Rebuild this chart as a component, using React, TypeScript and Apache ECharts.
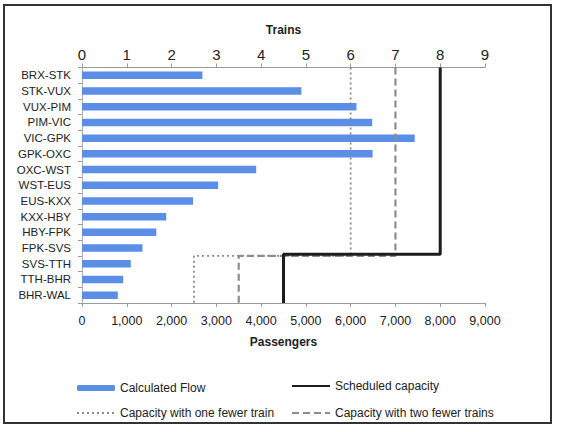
import React, { useEffect, useRef } from "react";
import * as echarts from "echarts";

const categories = [
  "BRX-STK", "STK-VUX", "VUX-PIM", "PIM-VIC", "VIC-GPK", "GPK-OXC", "OXC-WST",
  "WST-EUS", "EUS-KXX", "KXX-HBY", "HBY-FPK", "FPK-SVS", "SVS-TTH", "TTH-BHR", "BHR-WAL",
];
const calculatedFlow = [2690, 4900, 6130, 6480, 7430, 6490, 3890, 3040, 2480, 1880, 1660, 1350, 1090, 920, 800];

// [passengers, position from bottom of chart (0..15 category rows)]
const scheduledCapacity = [[8000, 15], [8000, 3.1], [4500, 3.1], [4500, 0]];
const oneFewerTrain = [[6000, 15], [6000, 3], [2500, 3], [2500, 0]];
const twoFewerTrains = [[7000, 15], [7000, 3], [3500, 3], [3500, 0]];

const FONT = "Liberation Sans, Arial, sans-serif";

export default function App() {
  const ref = useRef<HTMLDivElement>(null);
  useEffect(() => {
    if (!ref.current) return;
    const chart = echarts.init(ref.current, null, { renderer: "svg" });
    const axisGray = "#9a9a9a";
    const hiddenSymbol = { opacity: 0 };
    chart.setOption({
      animation: false,
      backgroundColor: "#ffffff",
      textStyle: { fontFamily: FONT },
      grid: { left: 82, right: 76, top: 67.5, bottom: 129 },
      graphic: [
        {
          type: "rect",
          shape: { x: 4, y: 5, width: 547, height: 418 },
          style: { fill: "none", stroke: "#333", lineWidth: 2 },
        },
      ],
      legend: [
        {
          left: 71,
          top: 376,
          orient: "vertical",
          itemWidth: 38,
          itemHeight: 6,
          itemGap: 11,
          data: [
            { name: "Calculated Flow" },
            { name: "Capacity with one fewer train", itemStyle: hiddenSymbol },
          ],
          textStyle: { fontSize: 12, color: "#222", lineHeight: 14, fontFamily: FONT },
        },
        {
          left: 286,
          top: 374,
          orient: "vertical",
          itemWidth: 38,
          itemHeight: 6,
          itemGap: 13,
          data: [
            { name: "Scheduled capacity", itemStyle: hiddenSymbol },
            { name: "Capacity with two fewer trains", itemStyle: hiddenSymbol },
          ],
          textStyle: { fontSize: 12, color: "#222", lineHeight: 14, fontFamily: FONT },
        },
      ],
      xAxis: [
        {
          type: "value",
          position: "bottom",
          min: 0,
          max: 9000,
          interval: 1000,
          name: "Passengers",
          nameLocation: "middle",
          nameGap: 33,
          nameTextStyle: { fontWeight: "bold", fontSize: 12, color: "#222", fontFamily: FONT },
          axisLine: { show: true, lineStyle: { color: axisGray } },
          axisTick: { show: true, length: 4, lineStyle: { color: axisGray } },
          axisLabel: {
            fontSize: 12.5,
            color: "#222",
            margin: 11,
            formatter: (v: number) => v.toLocaleString("en-US"),
          },
          splitLine: { show: false },
        },
        {
          type: "value",
          position: "top",
          min: 0,
          max: 9,
          interval: 1,
          name: "Trains",
          nameLocation: "middle",
          nameGap: 32,
          nameTextStyle: { fontWeight: "bold", fontSize: 12, color: "#222", fontFamily: FONT },
          axisLine: { show: true, lineStyle: { color: axisGray } },
          axisTick: { show: true, length: 4, lineStyle: { color: axisGray } },
          axisLabel: { fontSize: 15, color: "#222", margin: 6 },
          splitLine: { show: false },
        },
      ],
      yAxis: [
        {
          type: "category",
          data: categories,
          inverse: true,
          position: "left",
          axisLine: { show: true, lineStyle: { color: axisGray } },
          axisTick: { show: true, length: 4, lineStyle: { color: axisGray } },
          axisLabel: { fontSize: 11.5, color: "#222", margin: 11 },
          splitLine: { show: false },
        },
        {
          type: "value",
          position: "right",
          min: 0,
          max: 15,
          axisLine: { show: true, lineStyle: { color: "#b0b0b0" } },
          axisTick: { show: false },
          axisLabel: { show: false },
          splitLine: { show: false },
        },
      ],
      series: [
        {
          name: "Calculated Flow",
          type: "bar",
          xAxisIndex: 0,
          yAxisIndex: 0,
          data: calculatedFlow,
          barWidth: 7.5,
          itemStyle: { color: "#5b8ee6" },
        },
        {
          name: "Capacity with one fewer train",
          type: "line",
          xAxisIndex: 0,
          yAxisIndex: 1,
          data: oneFewerTrain,
          showSymbol: false,
          symbol: "none",
          lineStyle: { color: "#8a8a8a", width: 1.8, type: [2, 3] },
          itemStyle: { color: "#8a8a8a" },
        },
        {
          name: "Capacity with two fewer trains",
          type: "line",
          xAxisIndex: 0,
          yAxisIndex: 1,
          data: twoFewerTrains,
          showSymbol: false,
          symbol: "none",
          lineStyle: { color: "#8c8c8c", width: 2.2, type: [7, 4] },
          itemStyle: { color: "#8c8c8c" },
        },
        {
          name: "Scheduled capacity",
          type: "line",
          xAxisIndex: 0,
          yAxisIndex: 1,
          data: scheduledCapacity,
          showSymbol: false,
          symbol: "none",
          lineStyle: { color: "#1c1c1c", width: 3 },
          itemStyle: { color: "#1c1c1c" },
        },
      ],
    });
    return () => chart.dispose();
  }, []);
  return (
    <div
      ref={ref}
      style={{ position: "fixed", left: 0, top: 0, width: 561, height: 432, background: "#fff" }}
    />
  );
}
